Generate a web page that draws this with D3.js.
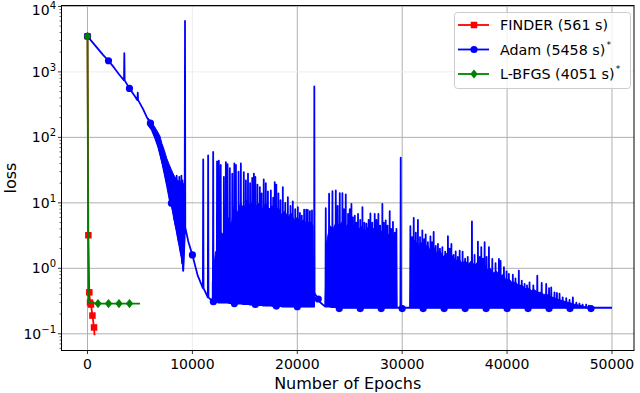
<!DOCTYPE html>
<html><head><meta charset="utf-8">
<script src="https://cdn.jsdelivr.net/npm/d3@7/dist/d3.min.js"></script>
<style>body{margin:0;background:#fff}svg{display:block}text{font-family:"DejaVu Sans",sans-serif;fill:#000}</style>
</head><body><svg id="c" width="640" height="393"></svg>
<script>
// ---------- data ----------
const xTicks = [0, 10000, 20000, 30000, 40000, 50000];
const yTickExps = [-1, 0, 1, 2, 3, 4];
const seriesNames = ["FINDER (561 s)", "Adam (5458 s)", "L-BFGS (4051 s)"];
const seriesSup = ["", "*", "*"];
const seriesColors = ["#ff0000", "#0000ff", "#008000"];
const xLabel = "Number of Epochs";
const yLabel = "loss";

// FINDER: [epoch, loss]
const finderLine = [[0,3500],[80,3.2],[170,0.43],[240,0.30],[330,0.28],[470,0.19],[620,0.125],[670,0.095]];
const finderMarks = [[0,3500],[80,3.2],[170,0.43],[240,0.30],[330,0.28],[470,0.19],[620,0.125]];

// L-BFGS: [epoch, loss]
const lbfgsLine = [[0,3500],[80,0.30],[1000,0.29],[2000,0.29],[3000,0.29],[4000,0.29],[5000,0.29]];
const lbfgsMarks = [[0,3500],[1000,0.29],[2000,0.29],[3000,0.29],[4000,0.29]];

// Adam path: [epoch, loss] points, or [epoch, base, peak] spikes
const adamPath = [
[0,3500],[500,2800],[1000,2250],[1500,1800],[2000,1480],[2500,1180],[3000,920],[3510,742,1925],[4000,560],[4500,430],[4790,370,480],[5000,330],[5300,270],[5640,205],[6000,165],
[6300,120],[6600,90],[6900,60],[7200,38],[7500,24],[7800,14],[8000,9.9],[8150,8,27],[8300,5.5],[8500,4,26],[8600,3.2],[8750,2.5,25],[8950,1.6,26],[9050,1.2,22],[9130,0.92],[9260,3],[9295,6000],[9320,4.2],
[9600,2.6],[10000,1.6],[10500,0.78],[11030,0.5,46],[11500,0.36,53],[11980,0.31,60],
[12350,0.305,43],[12520,0.30,44],[12700,0.30,38],[13000,0.30,25],[13190,0.30,42],[13350,0.30,39],[13570,0.295,34],[13800,0.295,28],[14000,0.29,40],[14150,0.29,38],[14400,0.29,30],[14620,0.29,40],[14900,0.285,29.5],[15100,0.285,22],[15300,0.285,28],[15500,0.28,20],[15700,0.28,24],[15860,0.28,28],[16000,0.28,25],[16200,0.275,19],[16430,0.275,17.4],[16600,0.275,14],[16800,0.27,22.8],[17000,0.27,20],[17200,0.27,15],[17480,0.27,15.5],[17700,0.265,12],[17850,0.265,20.7],[18000,0.265,19],[18200,0.265,14],[18400,0.265,11],[18620,0.26,17.4],[18850,0.26,10],[19100,0.26,12.2],[19350,0.26,9],[19570,0.26,10.5],[19800,0.26,8],[20050,0.26,8.6],[20250,0.26,7],[20430,0.26,6.4],[20650,0.26,7.9],[20850,0.26,7.9],[21000,0.26,7.8],[21200,0.26,7.5],[21400,0.26,7.7],
[21600,0.26],[21623,600],[21650,0.42],[21900,0.35],[22200,0.30],[22600,0.265],
[22714,0.26,8.3],[23030,0.26,13.8],[23350,0.255,15.1],[23670,0.255,15.5],[23850,0.255,9],[24050,0.255,14.1],[24300,0.25,14.1],[24450,0.25,8],[24620,0.25,13.5],[24840,0.25,6.8],[25000,0.25,8],[25160,0.25,9.6],[25300,0.25,6],[25480,0.25,6.4],[25650,0.25,5],[25790,0.25,6.8],[26000,0.25,5.5],[26210,0.25,8.6],[26400,0.25,5],[26590,0.25,4.8],[26800,0.25,5.5],[26970,0.25,6.9],[27150,0.25,5],[27380,0.25,6.8],[27550,0.25,5.5],[27730,0.25,6.8],[27900,0.25,4.5],[28110,0.25,9.6],[28250,0.25,5],[28430,0.25,5.4],[28600,0.25,4.5],[28810,0.25,7.5],[28950,0.25,4],[29120,0.25,5.1],[29300,0.25,3.5],[29450,0.25,4.0],[29860,0.25,49],
[30780,0.25,4.4],[30950,0.25,3],[31100,0.25,5.9],[31300,0.25,3.5],[31500,0.25,5.5],[31700,0.25,3],[31920,0.25,3.8],[32100,0.25,2.8],[32240,0.25,3.3],[32450,0.25,2.5],[32690,0.25,3.06],[32850,0.25,2.5],[33000,0.25,3.6],[33200,0.25,2.2],[33410,0.25,2.36],[33600,0.25,2],[33830,0.25,2.1],[34100,0.25,1.8],[34360,0.25,3.1],[34530,0.25,2.0],[34690,0.25,2.36],[34900,0.25,1.6],[35100,0.25,1.82],[35300,0.25,1.5],[35480,0.25,1.87],[35760,0.25,1.8],[36000,0.25,1.4],[36250,0.25,1.5],[36650,0.25,5.2],[36900,0.25,1.6],[37220,0.25,2.56],[37400,0.25,1.5],[37540,0.25,2.1],[37700,0.25,1.4],[37860,0.25,2.5],[38050,0.25,1.5],[38270,0.25,2.1],[38590,0.25,1.39],[38900,0.25,1.2],[39220,0.25,1.39],[39380,0.25,1.3],[39700,0.25,1.04],[39950,0.25,0.9],[40170,0.25,0.82],[40550,0.25,0.8],[40800,0.25,0.7],[41120,0.25,0.92],[41400,0.25,0.65],[41670,0.25,0.58],[41900,0.25,0.55],[42140,0.25,0.61],[42500,0.25,0.55],[42880,0.25,0.77],[43300,0.25,0.6],[43730,0.25,0.58],[44000,0.25,0.5],[44210,0.25,0.51],[44520,0.25,0.43],[44750,0.25,0.42],[45000,0.25,0.41],[45300,0.25,0.36],[45640,0.25,0.35],[45950,0.25,0.33],[46270,0.25,0.36],[46600,0.25,0.3],[46900,0.25,0.29],[47200,0.25,0.28],[47540,0.25,0.28],[47800,0.25,0.27],[48000,0.25],[50000,0.25]
];

// Adam dense oscillation bands: [epoch, low, high]
const adamBandWedge = [[5800,150,195],[6100,128,170],[6400,98,145],[6700,72,120],[6900,54,105],[7100,40,80],[7300,28,65],[7550,18,48],[7800,11,38],[8000,9,32],[8200,6,27],[8400,4.2,24],[8600,2.8,22],[8800,1.9,21],[9000,1.3,21],[9130,0.9,20],[9200,1.8,17],[9260,4,12]];
const adamBandA = [[11900,0.31,0.6],[12200,0.31,1.8],[12500,0.30,1.4],[12800,0.30,3.5],[13100,0.30,2.8],[13400,0.30,6],[13700,0.29,4.5],[14000,0.29,9],[14300,0.29,7],[14600,0.29,10],[14900,0.285,8],[15200,0.285,11],[15500,0.28,9],[15800,0.28,11],[16100,0.28,9],[16400,0.275,10],[16700,0.275,8],[17000,0.27,10],[17300,0.27,8],[17600,0.27,9],[17900,0.265,7.5],[18200,0.265,8.5],[18500,0.265,6.5],[18800,0.26,7.5],[19100,0.26,6],[19400,0.26,7],[19700,0.26,5.5],[20000,0.26,6],[20300,0.26,5],[20600,0.26,5.5],[20900,0.26,4.8],[21200,0.26,5.2],[21500,0.26,4.5],[21560,0.26,0.3]];
const adamBandB = [[22650,0.27,0.3],[22800,0.265,2.5],[23100,0.26,4.5],[23400,0.26,4],[23700,0.255,5],[24000,0.255,4.5],[24300,0.255,5.2],[24600,0.25,4.3],[24900,0.25,4.8],[25200,0.25,4],[25500,0.25,4.6],[25800,0.25,3.8],[26100,0.25,4.4],[26400,0.25,3.6],[26700,0.25,4.2],[27000,0.25,3.6],[27300,0.25,4.1],[27600,0.25,3.5],[27900,0.25,3.9],[28200,0.25,3.3],[28500,0.25,3.6],[28800,0.25,3.1],[29100,0.25,3.3],[29400,0.25,2.6],[29480,0.25,0.26]];
const adamBandC = [[30750,0.25,0.26],[30850,0.25,2],[31200,0.25,2.7],[31500,0.25,2.2],[31800,0.25,2.5],[32100,0.25,2],[32400,0.25,2.3],[32700,0.25,1.8],[33000,0.25,2.1],[33300,0.25,1.7],[33600,0.25,1.85],[33900,0.25,1.5],[34200,0.25,1.7],[34500,0.25,1.4],[34800,0.25,1.55],[35100,0.25,1.3],[35400,0.25,1.4],[35700,0.25,1.2],[36000,0.25,1.3],[36300,0.25,1.15],[36600,0.25,1.3],[36900,0.25,1.1],[37200,0.25,1.25],[37500,0.25,1.05],[37800,0.25,1.15],[38100,0.25,0.95],[38400,0.25,1.0],[38700,0.25,0.85],[39000,0.25,0.9],[39300,0.25,0.75],[39600,0.25,0.8],[39900,0.25,0.66],[40200,0.25,0.68],[40500,0.25,0.6],[40800,0.25,0.62],[41100,0.25,0.54],[41400,0.25,0.56],[41700,0.25,0.49],[42000,0.25,0.5],[42300,0.25,0.46],[42600,0.25,0.47],[42900,0.25,0.43],[43200,0.25,0.43],[43500,0.25,0.4],[43800,0.25,0.4],[44100,0.25,0.37],[44400,0.25,0.36],[44700,0.25,0.34],[45000,0.25,0.33],[45300,0.25,0.32],[45600,0.25,0.31],[45900,0.25,0.3],[46200,0.25,0.29],[46500,0.25,0.28],[46800,0.25,0.275],[47100,0.25,0.27],[47400,0.25,0.26],[47700,0.25,0.255],[48000,0.25,0.25]];

const adamMarks = [[0,3500],[2000,1480],[4000,560],[6000,165],[8000,9.9],[10000,1.6],[12000,0.31],[14000,0.29],[16000,0.28],[18000,0.265],[20000,0.26],[22000,0.34],[24000,0.243],[26000,0.243],[28000,0.243],[30000,0.243],[32000,0.243],[34000,0.243],[36000,0.243],[38000,0.243],[40000,0.243],[42000,0.243],[44000,0.243],[46000,0.243],[48000,0.243]];

// ---------- chart ----------
const svg = d3.select("#c");
const L = 61.5, R = 634, T = 5.5, B = 350.5;
const x = d3.scaleLinear().domain([-2480, 52100]).range([L, R]);
const y = d3.scaleLog().domain([Math.pow(10, -1.255), Math.pow(10, 4.014)]).range([B, T]);
const LW = 1.8;

// grid
const faintX = [10000], faintY = [3];
const grid = svg.append("g");
grid.selectAll("line.gx").data(xTicks).enter().append("line")
  .attr("x1", d => x(d)).attr("x2", d => x(d)).attr("y1", T).attr("y2", B)
  .attr("stroke", d => faintX.includes(d) ? "#ededed" : "#b0b0b0").attr("stroke-width", 1);
grid.selectAll("line.gy").data(yTickExps).enter().append("line")
  .attr("x1", L).attr("x2", R).attr("y1", d => y(Math.pow(10, d))).attr("y2", d => y(Math.pow(10, d)))
  .attr("stroke", d => faintY.includes(d) ? "#ededed" : "#b0b0b0").attr("stroke-width", 1);

svg.append("clipPath").attr("id", "clip").append("rect")
  .attr("x", L).attr("y", T).attr("width", R - L).attr("height", B - T);
const plot = svg.append("g").attr("clip-path", "url(#clip)");

const line = d3.line().x(d => x(d[0])).y(d => y(d[1]));
const area = d3.area().x(d => x(d[0])).y0(d => y(d[1])).y1(d => y(d[2]));

function square(g, pts, color, s) {
  g.selectAll(null).data(pts).enter().append("rect")
    .attr("x", d => x(d[0]) - s / 2).attr("y", d => y(d[1]) - s / 2)
    .attr("width", s).attr("height", s).attr("fill", color);
}
function circle(g, pts, color, r) {
  g.selectAll(null).data(pts).enter().append("circle")
    .attr("cx", d => x(d[0])).attr("cy", d => y(d[1])).attr("r", r).attr("fill", color);
}
function diamond(g, pts, color, r) {
  g.selectAll(null).data(pts).enter().append("path")
    .attr("d", d => { const cx = x(d[0]), cy = y(d[1]); return `M${cx},${cy - r}L${cx + r * 0.8},${cy}L${cx},${cy + r}L${cx - r * 0.8},${cy}Z`; })
    .attr("fill", color);
}

// FINDER
plot.append("path").datum(finderLine).attr("d", line).attr("fill", "none")
  .attr("stroke", seriesColors[0]).attr("stroke-width", LW);
square(plot, finderMarks, seriesColors[0], 6.5);

// Adam
[adamBandWedge, adamBandA, adamBandB, adamBandC].forEach(b => {
  plot.append("path").datum(b).attr("d", area).attr("fill", seriesColors[1]).attr("stroke", seriesColors[1]).attr("stroke-width", 1);
});
const adamPts = [];
adamPath.forEach(p => {
  if (p.length === 3) { adamPts.push([p[0] - 30, p[1]], [p[0], p[2]], [p[0] + 30, p[1]]); }
  else adamPts.push(p);
});
plot.append("path").datum(adamPts).attr("d", line).attr("fill", "none")
  .attr("stroke", seriesColors[1]).attr("stroke-width", LW).attr("stroke-linejoin", "round");
circle(plot, adamMarks, seriesColors[1], 3.6);

// L-BFGS
plot.append("path").datum(lbfgsLine).attr("d", line).attr("fill", "none")
  .attr("stroke", seriesColors[2]).attr("stroke-width", LW);
diamond(plot, lbfgsMarks, seriesColors[2], 4.6);

// axes
const ax = svg.append("g");
ax.append("rect").attr("x", L).attr("y", T).attr("width", R - L).attr("height", B - T)
  .attr("fill", "none").attr("stroke", "#000").attr("stroke-width", 1);
xTicks.forEach(t => {
  ax.append("line").attr("x1", x(t)).attr("x2", x(t)).attr("y1", B).attr("y2", B + 3.5).attr("stroke", "#000").attr("stroke-width", 0.8);
  ax.append("text").attr("x", x(t)).attr("y", B + 18).attr("text-anchor", "middle").attr("font-size", 14).text(t);
});
yTickExps.forEach(e => {
  const yy = y(Math.pow(10, e));
  ax.append("line").attr("x1", L - 3.5).attr("x2", L).attr("y1", yy).attr("y2", yy).attr("stroke", "#000").attr("stroke-width", 0.8);
  const t = ax.append("text").attr("x", 56).attr("y", Math.max(yy + 5, 14.5)).attr("text-anchor", "end").attr("font-size", 14);
  t.append("tspan").text("10");
  t.append("tspan").attr("font-size", 10).attr("dy", -6).text(e < 0 ? "\u2212" + (-e) : String(e));
});
const [dmin, dmax] = y.domain();
for (let e = -2; e <= 4; e++) {
  for (let m = 2; m <= 9; m++) {
    const v = m * Math.pow(10, e);
    if (v < dmin || v > dmax) continue;
    ax.append("line").attr("x1", L - 2).attr("x2", L).attr("y1", y(v)).attr("y2", y(v)).attr("stroke", "#000").attr("stroke-width", 0.6);
  }
}
ax.append("text").attr("x", (L + R) / 2).attr("y", 389).attr("text-anchor", "middle").attr("font-size", 16).text(xLabel);
ax.append("text").attr("transform", `translate(16,${(T + B) / 2}) rotate(-90)`).attr("text-anchor", "middle").attr("font-size", 16).text(yLabel);

// legend
const lg = svg.append("g");
lg.append("rect").attr("x", 454.5).attr("y", 12.5).attr("width", 176).attr("height", 76).attr("rx", 3)
  .attr("fill", "#fff").attr("fill-opacity", 0.8).attr("stroke", "#cccccc").attr("stroke-width", 1);
const rowY = [25, 49.5, 74];
seriesNames.forEach((n, i) => {
  const yy = rowY[i];
  lg.append("line").attr("x1", 458).attr("x2", 489).attr("y1", yy).attr("y2", yy).attr("stroke", seriesColors[i]).attr("stroke-width", LW);
  if (i === 0) lg.append("rect").attr("x", 470.75).attr("y", yy - 3.25).attr("width", 6.5).attr("height", 6.5).attr("fill", seriesColors[i]);
  if (i === 1) lg.append("circle").attr("cx", 474).attr("cy", yy).attr("r", 3.6).attr("fill", seriesColors[i]);
  if (i === 2) lg.append("path").attr("d", `M474,${yy - 4.6}L477.7,${yy}L474,${yy + 4.6}L470.3,${yy}Z`).attr("fill", seriesColors[i]);
  const t = lg.append("text").attr("x", 500).attr("y", yy + 5).attr("font-size", 14.3);
  t.append("tspan").text(n);
  if (seriesSup[i]) t.append("tspan").attr("font-size", 9).attr("dy", -7).attr("dx", 1).text(seriesSup[i]);
});
</script></body></html>
